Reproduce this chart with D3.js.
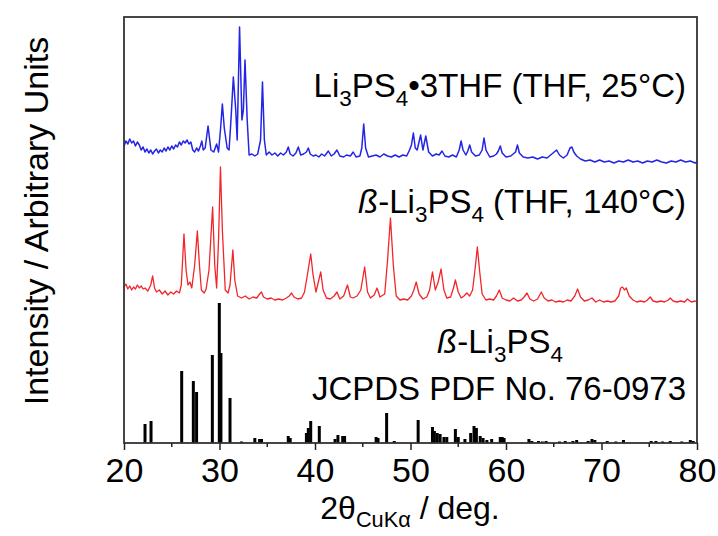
<!DOCTYPE html>
<html>
<head>
<meta charset="utf-8">
<script src="https://cdn.jsdelivr.net/npm/d3@7"></script>
<style>
body { margin: 0; background: #fff; }
text { font-family: "Liberation Sans", Arial, sans-serif; fill: #000; }
</style>
</head>
<body>
<script>
var width = 718;
var height = 536;

// pattern blu: Li3PS4·3THF a 25°C  [2theta, intensita]
var datiBlu = [[20.0,17],[20.2,22],[20.4,19],[20.6,24],[20.8,20],[21.0,22],[21.2,17],[21.4,21],[21.6,18],[21.8,13],
    [22.0,16],[22.2,11],[22.4,14],[22.6,10],[22.8,13],[23.0,9],[23.2,12],[23.4,14],[23.6,10],[23.8,13],
    [24.0,11],[24.2,15],[24.4,12],[24.6,16],[24.8,13],[25.0,17],[25.2,14],[25.4,18],[25.6,16],[25.8,21],
    [26.0,18],[26.2,22],[26.4,20],[26.6,23],[26.8,19],[27.0,21],[27.2,13],[27.4,11],[27.6,15],[27.8,12],
    [28.0,17],[28.15,22],[28.3,13],[28.5,15],[28.8,37],[29.1,13],[29.4,11],[29.7,19],[29.9,11],[30.1,33],
    [30.3,59],[30.5,35],[30.8,15],[31.0,13],[31.2,43],[31.45,86],[31.7,53],[31.85,23],[32.1,136],[32.35,43],
    [32.5,53],[32.67,103],[32.9,43],[33.1,8],[33.4,9],[33.7,7],[34.0,9],[34.3,23],[34.5,81],[34.7,23],
    [34.9,8],[35.2,11],[35.5,8],[35.8,10],[36.1,7],[36.4,10],[36.7,8],[37.0,11],[37.2,16],[37.4,9],
    [37.7,7],[38.0,10],[38.25,16],[38.5,8],[38.8,9],[39.1,11],[39.3,15],[39.5,9],[39.8,7],[40.1,8],
    [40.4,6],[40.7,9],[41.0,7],[41.4,12],[41.7,7],[42.0,9],[42.3,13],[42.6,7],[43.0,6],[43.3,8],
    [43.7,7],[44.0,11],[44.3,6],[44.7,7],[44.9,15],[45.1,39],[45.3,15],[45.6,6],[46.0,7],[46.4,8],
    [46.8,6],[47.2,9],[47.6,7],[48.0,6],[48.4,8],[48.8,6],[49.2,8],[49.6,7],[49.9,13],[50.1,18],
    [50.3,30],[50.5,15],[50.7,13],[51.06,28],[51.3,13],[51.6,27],[51.9,11],[52.3,7],[52.7,9],[53.0,8],
    [53.3,12],[53.6,7],[54.0,6],[54.4,8],[54.8,6],[55.1,13],[55.3,22],[55.5,13],[55.8,8],[56.0,12],
    [56.2,18],[56.4,11],[56.8,7],[57.2,8],[57.5,13],[57.7,25],[57.9,13],[58.3,6],[58.7,7],[59.0,9],
    [59.2,12],[59.4,17],[59.6,10],[60.0,6],[60.5,7],[61.0,11],[61.2,18],[61.4,10],[61.8,6],[62.3,5],
    [62.8,6],[63.3,4],[63.8,6],[64.3,5],[64.8,9],[65.3,13],[65.6,8],[66.0,5],[66.4,8],[66.7,15],
    [66.9,16],[67.1,11],[67.4,7],[67.8,4],[68.3,2],[68.8,3],[69.3,1],[69.8,3],[70.3,1],[70.8,2],
    [71.3,0],[71.8,2],[72.3,1],[72.8,3],[73.3,1],[73.8,2],[74.3,0],[74.8,2],[75.3,1],[75.8,3],
    [76.3,1],[76.8,0],[77.3,2],[77.8,1],[78.3,3],[78.8,1],[79.3,2],[79.8,0],[80.0,1]];

// pattern rosso: beta-Li3PS4 a 140°C
var datiRosso = [[20.0,21],[20.2,24],[20.4,19],[20.6,22],[20.8,18],[21.0,21],[21.2,19],[21.4,23],[21.6,20],[21.8,22],
    [22.0,19],[22.2,20],[22.5,17],[22.8,23],[23.0,32],[23.2,20],[23.4,16],[23.7,18],[24.0,14],[24.3,17],
    [24.6,13],[24.9,16],[25.2,14],[25.5,17],[25.8,15],[26.0,23],[26.28,74],[26.5,38],[26.7,23],[26.9,26],
    [27.1,20],[27.4,43],[27.68,77],[27.9,43],[28.1,18],[28.4,15],[28.6,19],[28.9,38],[29.28,101],[29.5,43],
    [29.7,20],[29.9,68],[30.1,141],[30.3,78],[30.6,18],[30.9,15],[31.1,23],[31.4,58],[31.6,28],[31.9,12],
    [32.3,10],[32.7,12],[33.1,9],[33.5,11],[33.9,10],[34.2,14],[34.4,16],[34.6,11],[35.0,9],[35.4,10],
    [35.8,8],[36.2,9],[36.6,8],[37.0,10],[37.3,12],[37.55,15],[37.8,11],[38.2,9],[38.6,10],[38.9,16],
    [39.2,33],[39.55,54],[39.8,33],[40.1,16],[40.35,26],[40.6,36],[40.85,18],[41.2,10],[41.6,9],[42.0,12],
    [42.3,16],[42.6,9],[43.0,12],[43.4,23],[43.7,11],[44.0,10],[44.4,12],[44.8,18],[45.2,41],[45.5,16],
    [45.8,10],[46.2,13],[46.5,20],[46.8,11],[47.3,14],[47.6,48],[47.9,90],[48.2,43],[48.5,12],[48.9,8],
    [49.3,9],[49.7,8],[50.1,12],[50.35,18],[50.6,26],[50.9,14],[51.3,9],[51.7,11],[52.0,18],[52.3,36],
    [52.6,18],[52.9,26],[53.2,39],[53.5,18],[53.8,10],[54.2,11],[54.5,20],[54.7,28],[55.0,16],[55.3,10],
    [55.6,12],[55.9,15],[56.2,12],[56.5,18],[56.75,38],[57.0,61],[57.25,36],[57.5,14],[57.9,8],[58.3,9],
    [58.7,8],[59.0,12],[59.3,18],[59.6,10],[60.0,8],[60.4,7],[60.8,10],[61.2,7],[61.6,8],[61.9,11],
    [62.2,15],[62.5,9],[62.9,7],[63.3,9],[63.7,16],[64.0,10],[64.4,7],[64.8,8],[65.2,6],[65.6,7],
    [66.0,6],[66.4,8],[66.8,7],[67.2,12],[67.5,19],[67.8,11],[68.2,7],[68.6,8],[69.0,10],[69.4,6],
    [69.8,8],[70.2,6],[70.6,7],[71.0,6],[71.4,7],[71.8,12],[72.0,20],[72.2,21],[72.4,18],[72.6,20],
    [72.9,12],[73.3,8],[73.7,6],[74.1,7],[74.5,6],[74.8,8],[75.1,11],[75.4,7],[75.8,6],[76.2,7],
    [76.6,6],[77.0,8],[77.2,10],[77.5,7],[77.9,6],[78.3,7],[78.7,6],[79.0,9],[79.4,6],[79.8,7],[80.0,6]];

// riferimento JCPDS 76-0973 (barre)
var datiRiferimento = [[22.2,19],[22.83,22],[26.04,72],[27.26,62],[27.6,51],[29.25,88],[29.98,140],[30.15,90],
    [31.1,45],[32.3,1.5],[33.7,5],[34.2,4],[34.4,4],[37.2,7],[37.4,5],[39.1,10],[39.3,15],[39.55,22],
    [40.45,17],[42.1,4],[42.4,8],[42.9,7],[43.1,7],[46.4,6],[46.6,5],[47.5,30],[48.3,2],[50.8,23],
    [52.3,16],[52.5,12],[52.8,10],[53.1,9],[53.5,6],[53.8,6],[54.7,14],[55.0,6],[55.7,4],[56.3,10],
    [56.65,17],[56.9,15],[57.3,7],[57.6,5],[58.0,3],[58.5,4],[59.4,6],[59.6,6],[59.8,5],[62.4,4],
    [62.7,2],[63.4,2],[63.8,1.5],[64.2,2],[65.6,1.5],[66.2,2],[67.0,2],[67.4,3],[68.6,2],[69.0,4],
    [69.3,3],[70.6,2],[71.5,1.5],[72.3,3],[75.2,2],[75.7,2],[76.4,1.5],[77.2,2],[78.4,1.5],[79.3,3],[79.6,2]];

var offsetBlu = 280;
var offsetRosso = 135;

var tickX = [20, 30, 40, 50, 60, 70, 80];
var tickMinori = [25, 35, 45, 55, 65, 75];

var sinistra = 124, destra = 697, alto = 17, basso = 443;

var svg = d3.select("body")
        .append("svg")
        .attr("width", width)
        .attr("height", height);

var x = d3.scaleLinear().domain([20, 80]).range([sinistra, destra]);
var y = d3.scaleLinear().domain([0, basso - alto]).range([basso, alto]);

function creaCurva(dati, offset, colore, spessore) {
    var linea = d3.line()
        .x(function(d){ return x(d[0]); })
        .y(function(d){ return y(d[1] + offset); });
    svg.append("path")
        .datum(dati)
        .attr("d", linea)
        .attr("fill", "none")
        .attr("stroke", colore)
        .attr("stroke-width", spessore)
        .attr("stroke-linejoin", "round");
}

creaCurva(datiRosso, offsetRosso, "#f0262b", 1.3);
creaCurva(datiBlu, offsetBlu, "#2424e6", 1.5);

svg.append("g").selectAll("line")
    .data(datiRiferimento)
    .enter().append("line")
    .attr("x1", function(d){ return x(d[0]); })
    .attr("x2", function(d){ return x(d[0]); })
    .attr("y1", y(0))
    .attr("y2", function(d){ return y(d[1]); })
    .attr("stroke", "black")
    .attr("stroke-width", 3);

// cornice
svg.append("rect")
    .attr("x", sinistra).attr("y", alto)
    .attr("width", destra - sinistra).attr("height", basso - alto)
    .attr("fill", "none")
    .attr("stroke", "#333")
    .attr("stroke-width", 1.8);

var asse = svg.append("g")
    .attr("transform", "translate(0," + basso + ")")
    .call(d3.axisBottom(x).tickValues(tickX).tickSize(7).tickPadding(8).tickFormat(d3.format("d")));
asse.select(".domain").remove();
asse.selectAll("line").attr("stroke", "#222").attr("stroke-width", 1.5);
asse.selectAll("text").attr("font-size", 34).attr("font-family", "Liberation Sans, Arial, sans-serif");

svg.append("g")
    .attr("transform", "translate(0," + basso + ")")
    .selectAll("line").data(tickMinori).enter().append("line")
    .attr("x1", function(d){ return x(d); })
    .attr("x2", function(d){ return x(d); })
    .attr("y1", 0).attr("y2", 4)
    .attr("stroke", "#222").attr("stroke-width", 1.5);

// testo con pedici / corsivo
function scriviTesto(px, py, anchor, size, parti) {
    var t = svg.append("text")
        .attr("x", px).attr("y", py)
        .attr("text-anchor", anchor)
        .attr("font-size", size);
    var spost = 0;
    parti.forEach(function(p){
        var ts = t.append("tspan").text(p.t);
        var nuovo = p.sub ? size * 0.26 : 0;
        if (nuovo != spost) ts.attr("dy", nuovo - spost);
        spost = nuovo;
        if (p.sub) ts.attr("font-size", size * 0.68);
        if (p.it) ts.attr("font-style", "italic");
    });
    return t;
}

scriviTesto(686, 97, "end", 33, [
    {t: "Li"}, {t: "3", sub: true}, {t: "PS"}, {t: "4", sub: true}, {t: "\u20223THF (THF, 25\u00b0C)"}]);
scriviTesto(686, 213, "end", 33, [
    {t: "\u00df", it: true}, {t: "-Li"}, {t: "3", sub: true}, {t: "PS"}, {t: "4", sub: true}, {t: " (THF, 140\u00b0C)"}]);
scriviTesto(500, 353, "middle", 33, [
    {t: "\u00df", it: true}, {t: "-Li"}, {t: "3", sub: true}, {t: "PS"}, {t: "4", sub: true}]);
scriviTesto(499, 400, "middle", 33, [{t: "JCPDS PDF No. 76-0973"}]);

// titoli assi
scriviTesto(410, 519, "middle", 32, [{t: "2\u03b8"}, {t: "CuK\u03b1", sub: true}, {t: " / deg."}]);

svg.append("text")
    .attr("transform", "translate(48,221) rotate(-90)")
    .attr("text-anchor", "middle")
    .attr("font-size", 34)
    .text("Intensity / Arbitrary Units");
</script>
</body>
</html>
